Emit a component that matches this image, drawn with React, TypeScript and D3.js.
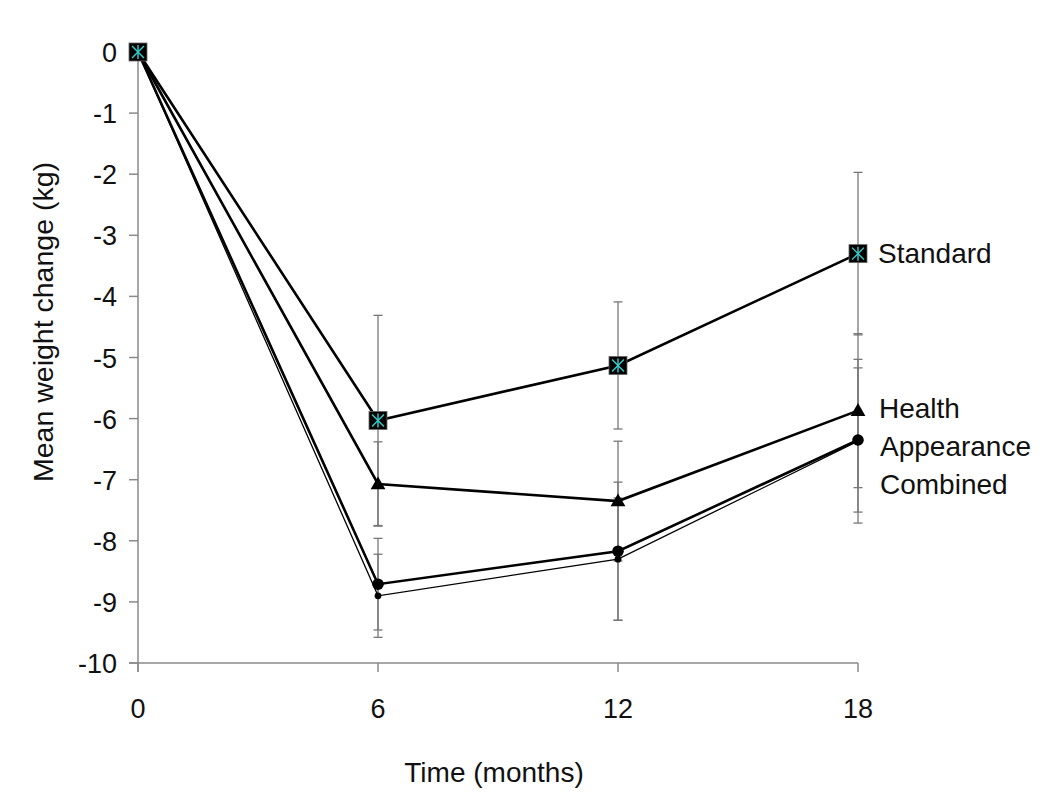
import React from "react";
import * as d3 from "d3";

const months = [0, 6, 12, 18];
const yTicks = [0, -1, -2, -3, -4, -5, -6, -7, -8, -9, -10];

const standard = [0, -6.03, -5.13, -3.3];
const standardErr = [0, 1.72, 1.04, 1.33];
const health = [0, -7.07, -7.35, -5.87];
const healthErr = [0, 0.69, 0.98, 1.26];
const appearance = [0, -8.71, -8.17, -6.35];
const appearanceErr = [0, 0.75, 1.13, 1.18];
const combined = [0, -8.9, -8.3, -6.37];
const combinedErr = [0, 0.68, 1.0, 1.34];

const seriesNames = ["Standard", "Health", "Appearance", "Combined"];

const W = 1050;
const H = 805;
const FONT = "'Liberation Sans', Arial, sans-serif";

export default function App() {
  const x = d3.scaleLinear().domain([0, 18]).range([138, 858]);
  const y = d3.scaleLinear().domain([-10, 0]).range([663, 52]);
  const line = d3
    .line<[number, number]>()
    .x((d) => x(d[0]))
    .y((d) => y(d[1]));

  const series = [
    { name: seriesNames[3], vals: combined, err: combinedErr, width: 1.3, marker: "smallCircle" },
    { name: seriesNames[2], vals: appearance, err: appearanceErr, width: 2.6, marker: "circle" },
    { name: seriesNames[1], vals: health, err: healthErr, width: 2.6, marker: "triangle" },
    { name: seriesNames[0], vals: standard, err: standardErr, width: 2.6, marker: "square" },
  ];

  const gray = "#8a8a8a";
  const cap = 4.5;

  const marker = (kind: string, cx: number, cy: number, key: string) => {
    if (kind === "square") {
      const s = 9;
      return (
        <g key={key}>
          <rect x={cx - s} y={cy - s} width={2 * s} height={2 * s} fill="#000" stroke="#666" strokeWidth={0.8} />
          <line x1={cx} y1={cy - 7} x2={cx} y2={cy + 7} stroke="#35d0d0" strokeWidth={1.4} />
          <line x1={cx - 6} y1={cy - 6} x2={cx + 6} y2={cy + 6} stroke="#35d0d0" strokeWidth={1.4} />
          <line x1={cx + 6} y1={cy - 6} x2={cx - 6} y2={cy + 6} stroke="#35d0d0" strokeWidth={1.4} />
        </g>
      );
    }
    if (kind === "triangle") {
      const tri = d3.symbol().type(d3.symbolTriangle).size(95)();
      return <path key={key} d={tri || ""} transform={`translate(${cx},${cy + 1})`} fill="#000" />;
    }
    if (kind === "circle") return <circle key={key} cx={cx} cy={cy} r={5.8} fill="#000" />;
    return <circle key={key} cx={cx} cy={cy} r={3.4} fill="#000" />;
  };

  return (
    <svg width={W} height={H} style={{ position: "absolute", left: 0, top: 0, background: "#fff" }} fontFamily={FONT}>
      <rect width={W} height={H} fill="#fff" />
      {/* axes */}
      <line x1={x(0)} y1={y(0)} x2={x(0)} y2={y(-10) + 9} stroke={gray} strokeWidth={1.5} />
      <line x1={x(0) - 9} y1={y(-10)} x2={x(18)} y2={y(-10)} stroke={gray} strokeWidth={1.5} />
      {yTicks.map((t) => (
        <g key={"yt" + t}>
          <line x1={x(0) - 9} x2={x(0)} y1={y(t)} y2={y(t)} stroke={gray} strokeWidth={1.5} />
          <text x={x(0) - 21} y={y(t) + 10} textAnchor="end" fontSize={27} fill="#111">
            {t < 0 ? "-" + Math.abs(t) : String(t)}
          </text>
        </g>
      ))}
      {months.map((m) => (
        <g key={"xt" + m}>
          <line x1={x(m)} x2={x(m)} y1={y(-10)} y2={y(-10) + 9} stroke={gray} strokeWidth={1.5} />
          <text x={x(m)} y={718} textAnchor="middle" fontSize={27} fill="#111">
            {m}
          </text>
        </g>
      ))}
      <text x={494} y={782} textAnchor="middle" fontSize={28} fill="#111">
        Time (months)
      </text>
      <text transform={`translate(53,322) rotate(-90)`} textAnchor="middle" fontSize={28.5} fill="#111">
        Mean weight change (kg)
      </text>

      {/* error bars */}
      {series.map((s) =>
        s.vals.map((v, i) =>
          s.err[i] > 0 ? (
            <g key={s.name + "e" + i} stroke="#777" strokeWidth={1.3}>
              <line x1={x(months[i])} x2={x(months[i])} y1={y(v + s.err[i])} y2={y(v - s.err[i])} />
              <line x1={x(months[i]) - cap} x2={x(months[i]) + cap} y1={y(v + s.err[i])} y2={y(v + s.err[i])} />
              <line x1={x(months[i]) - cap} x2={x(months[i]) + cap} y1={y(v - s.err[i])} y2={y(v - s.err[i])} />
            </g>
          ) : null
        )
      )}

      {/* lines */}
      {series.map((s) => (
        <path
          key={s.name + "l"}
          d={line(s.vals.map((v, i) => [months[i], v] as [number, number])) || ""}
          fill="none"
          stroke="#000"
          strokeWidth={s.width}
        />
      ))}

      {/* markers */}
      {series.map((s) => s.vals.map((v, i) => marker(s.marker, x(months[i]), y(v), s.name + "m" + i)))}

      {/* series labels */}
      <text x={878} y={263} fontSize={28} fill="#111">{seriesNames[0]}</text>
      <text x={879} y={418} fontSize={28} fill="#111">{seriesNames[1]}</text>
      <text x={880} y={456} fontSize={28} fill="#111">{seriesNames[2]}</text>
      <text x={880} y={494} fontSize={28} fill="#111">{seriesNames[3]}</text>
    </svg>
  );
}
